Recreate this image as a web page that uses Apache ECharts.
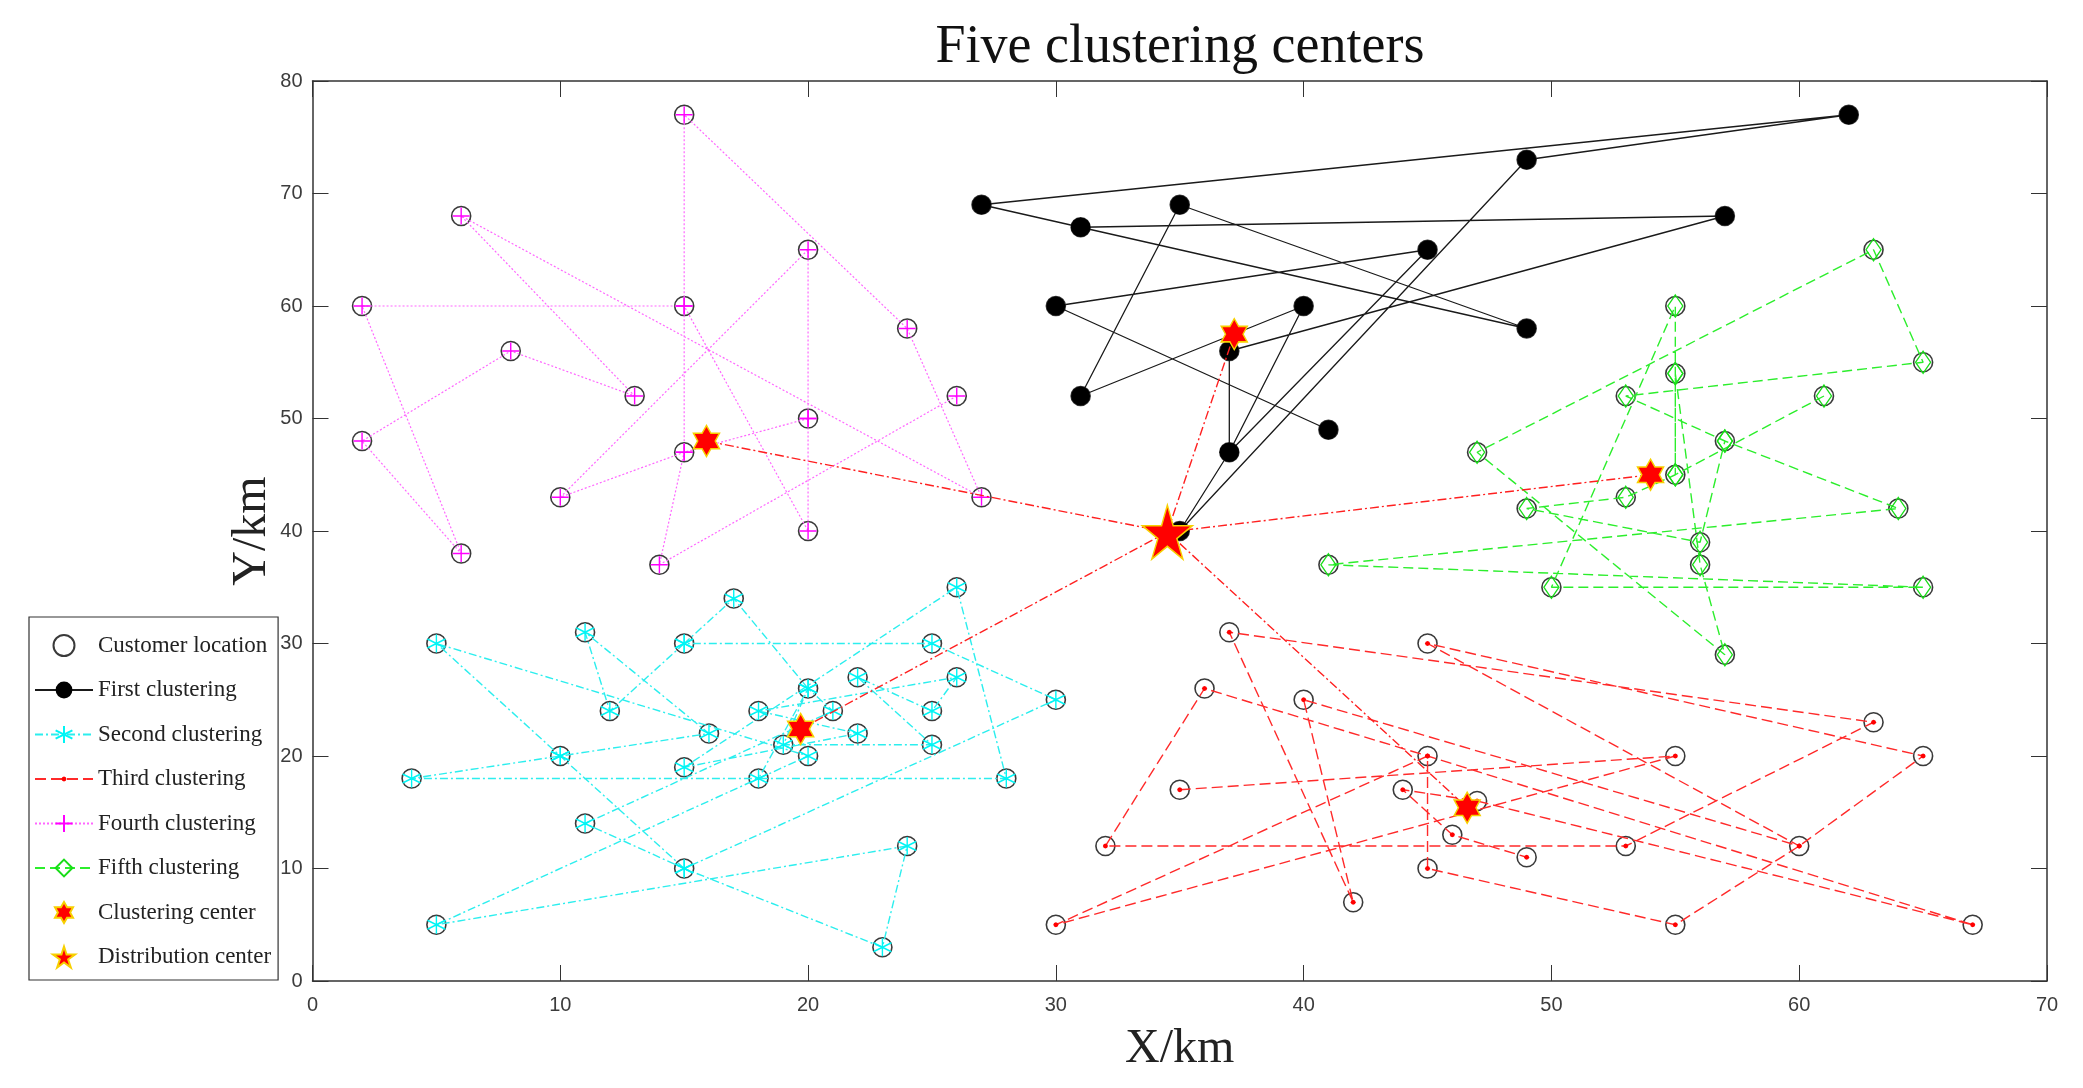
<!DOCTYPE html>
<html>
<head>
<meta charset="utf-8">
<style>html,body{margin:0;padding:0;background:#fff}#c{width:2083px;height:1088px}</style>
<script src="https://cdn.jsdelivr.net/npm/echarts@6/dist/echarts.min.js"></script>
</head>
<body>
<div id="c"></div>
<script>
var xTicks = [0, 70, 10];
var yTicks = [0, 80, 10];
var firstRoute = [[41,49],[30,60],[45,65],[37,47],[35,40],[49,73],[62,77],[27,69],[31,67],[57,68],[37,56],[37,47],[40,60],[31,52],[35,69],[49,58],[31,67]];
var secondRoute = [[15,30],[12,24],[11,31],[16,22],[10,20],[4,18],[28,18],[26,35],[15,19],[22,22],[18,24],[26,27],[25,24],[22,27],[25,21],[19,21],[20,26],[21,24],[11,14],[15,10],[23,3],[24,12],[5,5],[20,20],[5,30],[10,20],[15,10],[30,25],[25,30],[15,30],[17,34],[20,26],[18,18]];
var thirdRoute = [[35,17],[55,20],[30,5],[45,20],[45,10],[55,5],[60,12],[65,20],[45,30],[60,12],[40,25],[42,7],[37,31],[63,23],[53,12],[32,12],[36,26],[45,20],[67,5],[47,16],[44,17],[46,13],[49,11]];
var fourthRoute = [[26,52],[14,37],[15,47],[15,60],[15,77],[24,58],[27,43],[6,68],[13,52],[8,56],[2,48],[6,38],[2,60],[15,60],[20,40],[20,50],[20,65],[10,43],[15,47],[20,50]];
var fifthRoute = [[61,52],[55,45],[53,43],[49,42],[56,39],[57,48],[53,52],[65,55],[63,65],[47,47],[57,29],[56,37],[55,54],[55,45],[55,54],[55,60],[50,35],[65,35],[41,37],[64,42],[57,48]];
var clusterCenters = [[37.2,57.5],[19.7,22.4],[46.6,15.4],[15.9,48],[54,45]];
var distributionCenter = [[34.5,39.9]];

var seen = {};
var customers = [].concat(firstRoute, secondRoute, thirdRoute, fourthRoute, fifthRoute).filter(function (p) {
  var k = p.join(','); if (seen[k]) return false; seen[k] = 1; return true;
});

var HEX = 'path://M0 -100L29 -50L86 -50L58 0L86 50L29 50L0 100L-29 50L-86 50L-58 0L-86 -50L-29 -50Z';
var STAR = 'path://M0 -100L22 -31L95 -31L36 12L59 81L0 38L-59 81L-36 12L-95 -31L-22 -31Z';
var ASTER = 'path://M0 -100V100M-87 -50L87 50M-87 50L87 -50';
var PLUS = 'path://M-100 0H100M0 -100V100';
var DOT = 'path://M-100 -100L-100 -100M100 100L100 100M-30 0L-21 -21L0 -30L21 -21L30 0L21 21L0 30L-21 21Z';
var CLEAR = 'rgba(0,0,0,0)';

function routeSeries(name, data, lineColor, markColor, dash, width, symbol, size, filled) {
  return {
    name: name, type: 'line', data: data, z: 3, silent: true, showSymbol: true, showAllSymbol: true,
    symbol: symbol, symbolSize: size, symbolKeepAspect: false,
    lineStyle: { color: lineColor, width: width, type: dash },
    itemStyle: { color: filled ? markColor : CLEAR, borderColor: markColor, borderWidth: filled ? 0 : 1.4, opacity: 1 }
  };
}
var serif = '"Liberation Serif","Times New Roman",serif';
var sans = '"Liberation Sans",Arial,sans-serif';
var dark = '#333';

var series = [
  { name: 'Customer location', type: 'scatter', data: customers, symbol: 'circle', symbolSize: 19, z: 2, silent: true,
    itemStyle: { color: CLEAR, borderColor: '#3a3a3a', borderWidth: 1.6, opacity: 1 } },
  routeSeries('First clustering', firstRoute, '#1a1a1a', '#000', 'solid', 1.3, 'circle', 19, true),
  routeSeries('Second clustering', secondRoute, '#2ceeee', '#00f5f5', [8,3,2,3], 1.4, ASTER, 18, false),
  routeSeries('Third clustering', thirdRoute, '#ff2a2a', '#ff0000', [11,5], 1.4, DOT, 17, true),
  routeSeries('Fourth clustering', fourthRoute, '#ff66ff', '#ff00ff', [2,2], 1.2, PLUS, 17, false),
  routeSeries('Fifth clustering', fifthRoute, '#2cee2c', '#18dd18', [10,5], 1.4, 'diamond', [15,22], false)
];
clusterCenters.forEach(function (c, i) {
  series.push({ name: 'link' + i, type: 'line', data: [distributionCenter[0], c], symbol: 'none', z: 4, silent: true,
    lineStyle: { color: '#ff2020', width: 1.4, type: [9,3,2,3] } });
});
series.push({ name: 'Clustering center', type: 'scatter', data: clusterCenters, symbol: HEX, symbolSize: [26,31], symbolKeepAspect: false, z: 5, silent: true,
  itemStyle: { color: '#ff0000', borderColor: '#f7d000', borderWidth: 1.5, opacity: 1 } });
series.push({ name: 'Distribution center', type: 'scatter', data: distributionCenter, symbol: STAR, symbolSize: [50,54], symbolKeepAspect: false, z: 6, silent: true,
  itemStyle: { color: '#ff0000', borderColor: '#f7d000', borderWidth: 1.5, opacity: 1 } });

function axis(kind, pos, ticks, name, main) {
  var a = {
    type: 'value', position: pos, min: ticks[0], max: ticks[1], interval: ticks[2],
    splitLine: { show: false },
    axisLine: { show: true, onZero: false, lineStyle: { color: dark, width: 1.5 } },
    axisTick: { show: true, inside: true, length: 16, lineStyle: { color: dark, width: 1 } },
    axisLabel: { show: !!main, color: '#3c3c3c', fontSize: 20, fontFamily: sans, margin: kind === 'x' ? 14 : 10 }
  };
  if (main) {
    a.name = name; a.nameLocation = 'middle';
    a.nameGap = kind === 'x' ? 44 : 36;
    if (kind === 'y') a.nameMoveOverlap = false;
    a.nameTextStyle = { fontFamily: serif, fontSize: 48, color: '#222', fontWeight: 'normal' };
  }
  return a;
}

var chart = echarts.init(document.getElementById('c'), null, { renderer: 'canvas' });
chart.setOption({
  animation: false,
  backgroundColor: '#fff',
  title: { text: 'Five clustering centers', left: 1175, top: 16, textAlign: 'center',
    textStyle: { fontFamily: serif, fontSize: 54, fontWeight: 'normal', color: '#111' } },
  grid: { left: 312.5, right: 36, top: 81, bottom: 107, containLabel: false },
  xAxis: [axis('x', 'bottom', xTicks, 'X/km', true), axis('x', 'top', xTicks)],
  yAxis: [axis('y', 'left', yTicks, 'Y/km', true), axis('y', 'right', yTicks)],
  legend: {
    orient: 'vertical', left: 29, top: 617, padding: [17, 7, 11.5, 5],
    itemWidth: 58, itemHeight: 21, itemGap: 21.5,
    backgroundColor: '#fff', borderColor: dark, borderWidth: 1.2, borderRadius: 0,
    selectedMode: false,
    textStyle: { fontFamily: serif, fontSize: 23, color: '#222' },
    data: ['Customer location','First clustering','Second clustering','Third clustering','Fourth clustering','Fifth clustering','Clustering center','Distribution center']
  },
  series: series
});
</script>
</body>
</html>
